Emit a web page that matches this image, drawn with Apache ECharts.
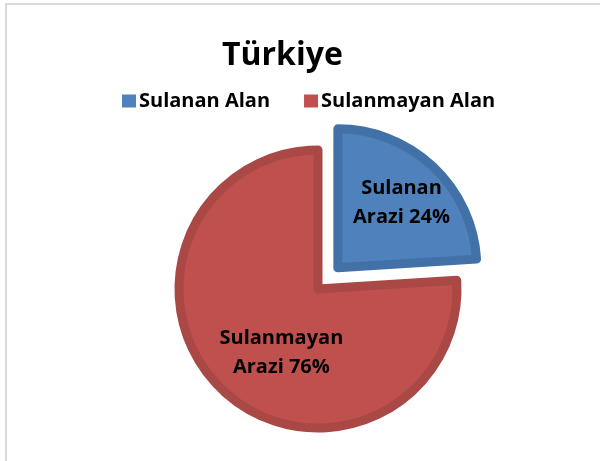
<!DOCTYPE html>
<html>
<head>
<meta charset="utf-8">
<script src="https://cdn.jsdelivr.net/npm/echarts@6/dist/echarts.min.js"></script>
<style>
  html, body { margin: 0; padding: 0; background: #fff; }
  #chart { width: 600px; height: 461px; }
</style>
</head>
<body>
<div id="chart"></div>
<script>
const titleText = 'Türkiye'
const categories = ['Sulanan Alan', 'Sulanmayan Alan']
const values = [24, 76]
const sliceLabels = ['Sulanan\nArazi', 'Sulanmayan\nArazi']
const fillColors = ['#4F81BD', '#C0504D']
const edgeColors = ['#4271A8', '#AA4845']

const fontFamily = '"Open Sans", Lato, sans-serif'

// nudge of each slice label from its default inside spot
const labelShift = [[14, -12], [13, 11]]

const chart = echarts.init(document.getElementById('chart'))

chart.setOption({
  backgroundColor: '#fff',
  animation: false,
  graphic: [{
    type: 'rect',
    shape: { x: 6, y: 4, width: 700, height: 600 },
    style: { fill: 'none', stroke: '#d9d9d9', lineWidth: 2 },
    silent: true
  }],
  title: {
    text: titleText,
    left: 217,
    top: 35,
    textStyle: { fontFamily: fontFamily, fontSize: 32, fontWeight: 'bold', color: '#000' }
  },
  legend: {
    data: categories,
    left: 117,
    top: 86,
    icon: 'rect',
    itemWidth: 14,
    itemHeight: 13,
    itemGap: 34,
    itemStyle: { borderWidth: 0 },
    textStyle: { fontFamily: fontFamily, fontSize: 20, fontWeight: 'bold', color: '#000', padding: [0, 0, 0, -2] }
  },
  series: [{
    type: 'pie',
    center: [318, 289],
    radius: 139,
    startAngle: 90,
    clockwise: true,
    selectedMode: 'single',
    selectedOffset: 29,
    emphasis: { disabled: true },
    labelLine: { show: false },
    labelLayout: (params) => ({
      dx: labelShift[params.dataIndex][0],
      dy: labelShift[params.dataIndex][1]
    }),
    data: categories.map((name, i) => ({
      name: name,
      value: values[i],
      selected: i === 0,
      itemStyle: { color: fillColors[i], borderColor: edgeColors[i], borderWidth: 9 },
      label: {
        show: true,
        position: 'inside',
        formatter: sliceLabels[i] + ' ' + values[i] + '%',
        fontFamily: fontFamily,
        fontSize: 20,
        fontWeight: 'bold',
        lineHeight: 29,
        color: '#000'
      }
    }))
  }]
})
</script>
</body>
</html>
